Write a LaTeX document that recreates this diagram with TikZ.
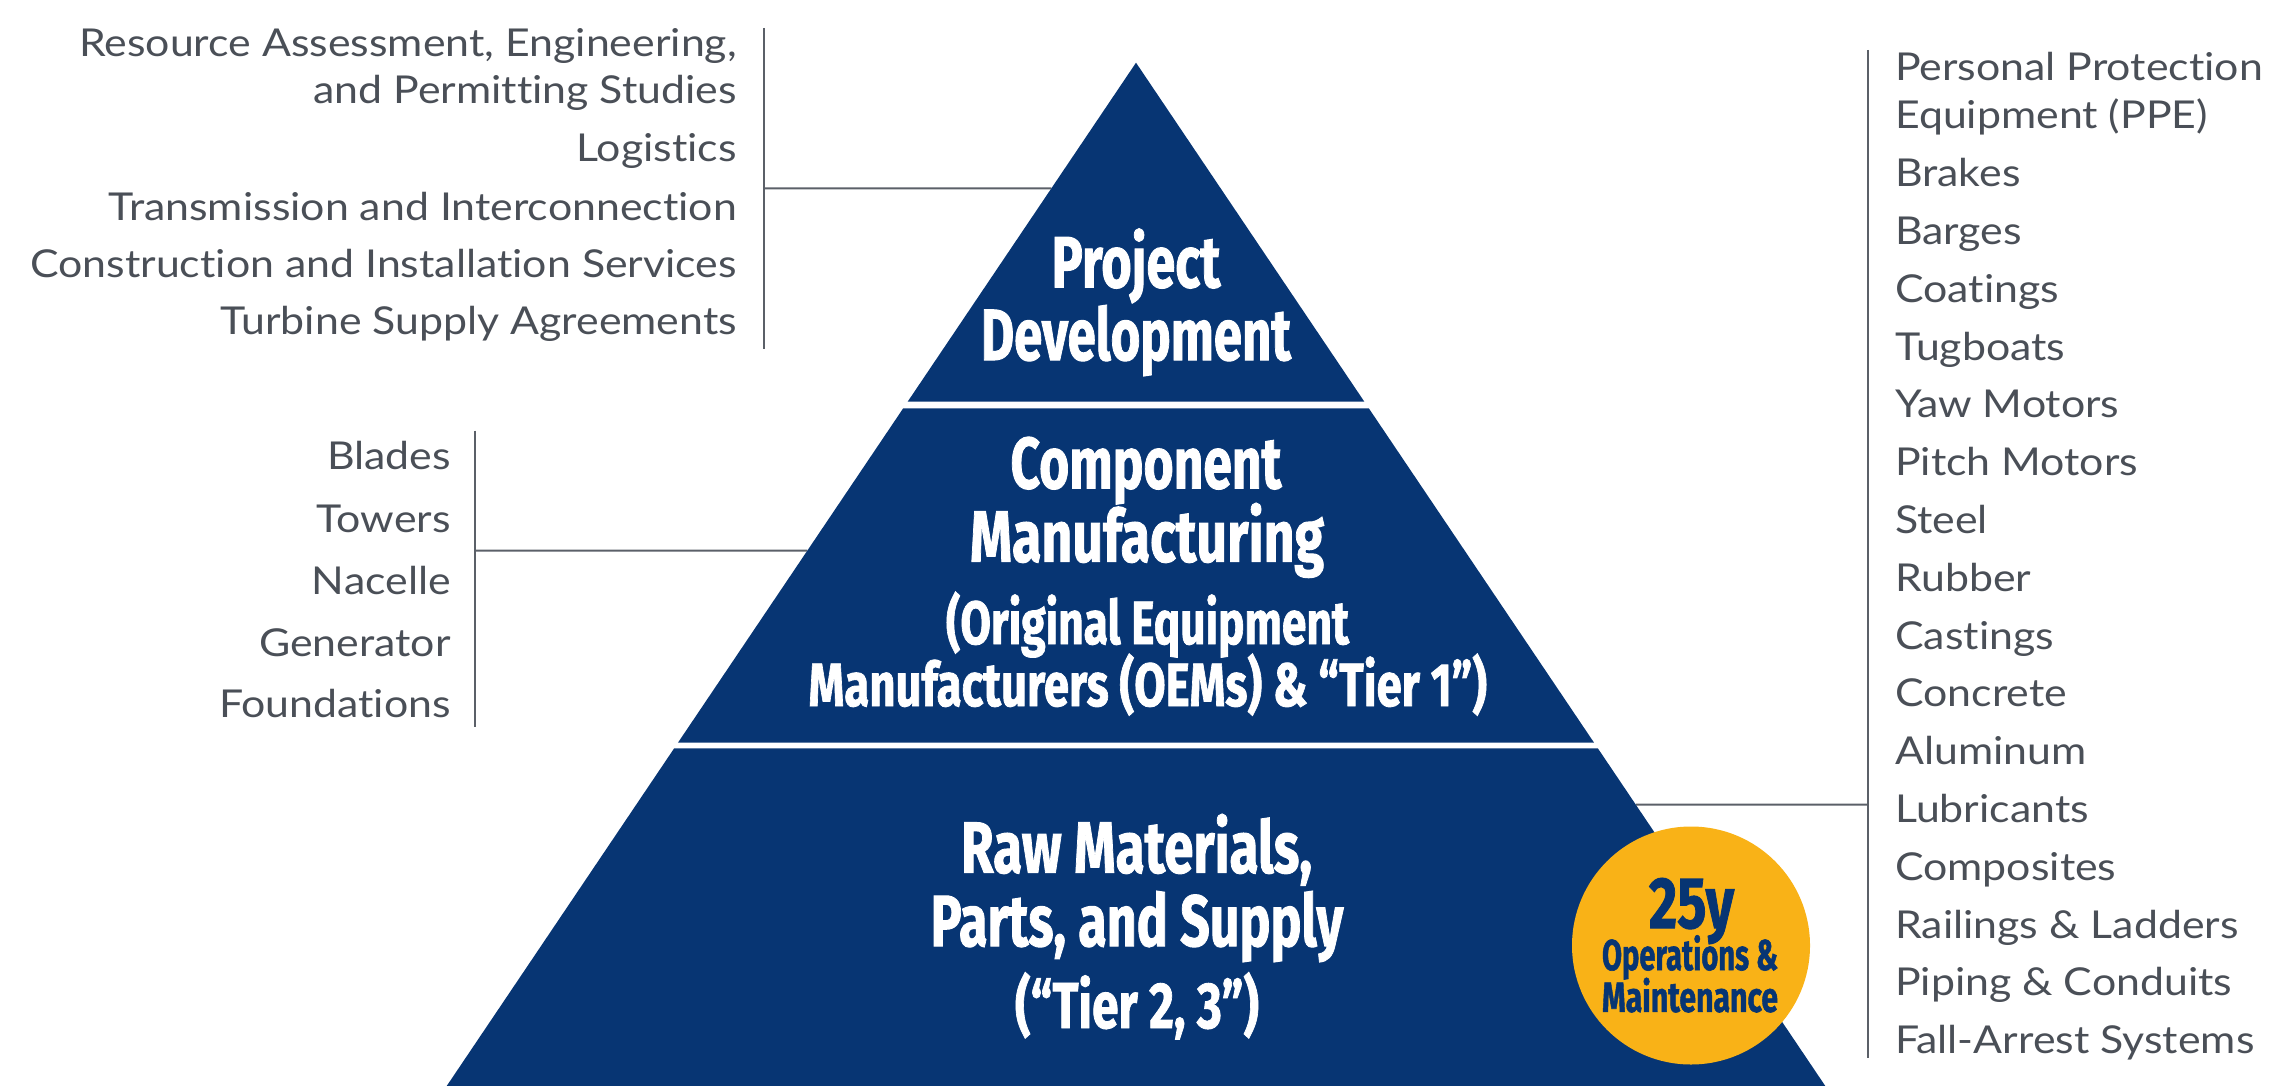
\documentclass[tikz,border=0pt]{standalone}
\usepackage{fontspec}
\setmainfont{Lato}[FakeStretch=1.115,Ligatures={NoCommon,NoRequired,NoContextual}]
\newfontfamily\pyrfont{Fira Sans}[BoldFeatures={FakeBold=1.4}]
\usetikzlibrary{calc}
\definecolor{navy}{HTML}{073573}
\definecolor{sun}{HTML}{F9B217}
\definecolor{txtgray}{HTML}{4A4F57}
\definecolor{linegray}{HTML}{5B6068}
\newcommand{\pl}[3]{\resizebox{#1pt}{\height}{\pyrfont\bfseries\fontsize{#2}{#2}\selectfont #3}}
\begin{document}
\begin{tikzpicture}[x=1pt,y=-1pt,
  item/.style={inner sep=0pt, text=txtgray, font=\fontsize{38.4}{40}\selectfont},
  litem/.style={item, anchor=base east},
  ritem/.style={item, anchor=base west},
  ptext/.style={inner sep=0pt, anchor=base, text=white},
  otext/.style={inner sep=0pt, anchor=base, text=navy},
  conn/.style={draw=linegray, line width=2pt},
  band/.style={fill=navy, draw=none}]
\useasboundingbox (0,0) rectangle (2269,1086);
% pyramid geometry
\coordinate (apex) at (1136,62.7);
\coordinate (bl) at (446.7,1086);
\coordinate (br) at (1825.3,1086);
\coordinate (a1l) at ($(apex)!0.33128!(bl)$);
\coordinate (a1r) at ($(apex)!0.33128!(br)$);
\coordinate (b2l) at ($(apex)!0.33773!(bl)$);
\coordinate (b2r) at ($(apex)!0.33773!(br)$);
\coordinate (a2l) at ($(apex)!0.66452!(bl)$);
\coordinate (a2r) at ($(apex)!0.66452!(br)$);
\coordinate (b3l) at ($(apex)!0.66999!(bl)$);
\coordinate (b3r) at ($(apex)!0.66999!(br)$);
\coordinate (e1) at ($(apex)!0.12274!(bl)$);
\coordinate (e2) at ($(apex)!0.47689!(bl)$);
\coordinate (e3) at ($(apex)!0.72501!(br)$);
% connector skeleton
\coordinate (v1t) at (763.7,28);
\coordinate (v1b) at (763.7,349);
\coordinate (v1m) at (763.7,188.3);
\coordinate (v2t) at (474.6,430.7);
\coordinate (v2b) at (474.6,726.7);
\coordinate (v2m) at (474.6,550.7);
\coordinate (v3t) at (1868,50);
\coordinate (v3b) at (1868,1057.8);
\coordinate (v3m) at (1868,804.6);
\draw[conn] (v1t) -- (v1b);
\draw[conn] (v1m) -- (e1);
\draw[conn] (v2t) -- (v2b);
\draw[conn] (v2m) -- (e2);
\draw[conn] (v3t) -- (v3b);
\draw[conn] (v3m) -- (e3);
% bands
\fill[band] (apex) -- (a1r) -- (a1l) -- cycle;
\fill[band] (b2l) -- (b2r) -- (a2r) -- (a2l) -- cycle;
\fill[band] (b3l) -- (b3r) -- (br) -- (bl) -- cycle;
% pyramid texts
\node[ptext] (pd1) at (1136,287.3) {\pl{169}{72.5}{Project}};
\node[ptext] (pd2) at (1136,360) {\pl{310}{72.5}{Development}};
\node[ptext] (cm1) at (1146,488.3) {\pl{271}{72.5}{Component}};
\node[ptext] (cm2) at (1147,561.7) {\pl{354}{72.5}{Manufacturing}};
\node[ptext] (cm3) at (1147.5,644) {\pl{403}{61}{(Original Equipment}};
\node[ptext] (cm4) at (1147.8,706) {\pl{678.5}{61}{Manufacturers (OEMs) \& “Tier 1”)}};
\node[ptext] (rm1) at (1136.5,872.7) {\pl{351}{72.5}{Raw Materials,}};
\node[ptext] (rm2) at (1137,946) {\pl{412.7}{72.5}{Parts, and Supply}};
\node[ptext] (rm3) at (1137,1028) {\pl{244}{65}{(“Tier 2, 3”)}};
% O&M circle
\node[circle, fill=sun, minimum size=238pt, inner sep=0pt] (om) at (1691,945.5) {};
\node[otext] (om1) at (1691.5,928) {\pl{85}{72.5}{25y}};
\node[otext] (om2) at (1690,970) {\pl{176}{43}{Operations \&}};
\node[otext] (om3) at (1690,1011.8) {\pl{176}{42}{Maintenance}};
% left top list
\node[litem] (l1a) at (737,56.7) {Resource Assessment, Engineering,};
\node[litem] (l1b) at (737,104) {and Permitting Studies};
\node[litem] (l2) at (737,162) {Logistics};
\node[litem] (l3) at (737,220.7) {Transmission and Interconnection};
\node[litem] (l4) at (737,277) {Construction and Installation Services};
\node[litem] (l5) at (737,334) {Turbine Supply Agreements};
% left middle list
\node[litem] (m1) at (451,469.3) {Blades};
\node[litem] (m2) at (451,532) {Towers};
\node[litem] (m3) at (451,594) {Nacelle};
\node[litem] (m4) at (451,656) {Generator};
\node[litem] (m5) at (451,717.3) {Foundations};
% right list
\node[ritem] (r1a) at (1895,81) {Personal Protection};
\node[ritem] (r1b) at (1895,129) {Equipment (PPE)};
\foreach \t [count=\i from 0] in {Brakes,Barges,Coatings,Tugboats,Yaw Motors,Pitch Motors,Steel,Rubber,Castings,Concrete,Aluminum,Lubricants,Composites,Railings \& Ladders,Piping \& Conduits,Fall-Arrest Systems}
  \node[ritem] (r\i) at (1895,186.7+57.8*\i) {\t};
\end{tikzpicture}
\end{document}
